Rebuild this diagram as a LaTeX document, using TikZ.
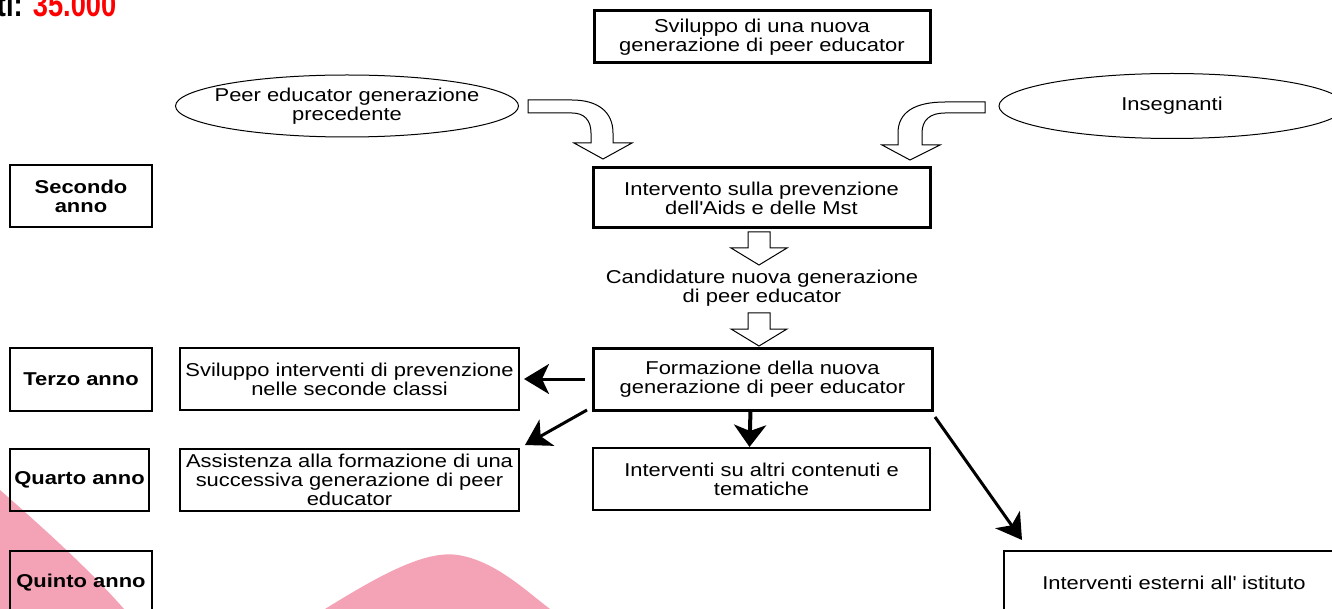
\documentclass[tikz,border=0pt]{standalone}
\usepackage{fontspec}
\setmainfont{Liberation Sans}[FakeStretch=1.18]
\usetikzlibrary{shapes.geometric,arrows.meta,calc}
\definecolor{blobpink}{RGB}{244,162,182}
\definecolor{numred}{RGB}{255,0,0}
\begin{document}
\begin{tikzpicture}[x=1pt,y=-1pt,
  every node/.style={font=\fontsize{18.6}{19}\selectfont, align=center, inner sep=0pt, outer sep=0pt},
  thickbox/.style={draw, line width=3pt},
  thinbox/.style={draw, line width=2pt},
  yearbox/.style={draw, line width=2.5pt, font=\fontsize{18.6}{19}\selectfont\bfseries},
  oval/.style={draw, ellipse, line width=1pt, inner xsep=-15pt, inner ysep=-5pt},
  blockarrow/.style={draw, line width=1pt, fill=white, line join=miter},
  link/.style={line width=3pt, -{Stealth[length=25pt,width=30pt,inset=7pt]}},
]
\useasboundingbox (0,0) rectangle (1332,609);
\clip (0,0) rectangle (1332,609);
% background blobs
\fill[blobpink] (0,490) .. controls (40,525) and (90,570) .. (124,609) -- (0,609) -- cycle;
\fill[blobpink] (325,609) .. controls (380,575) and (425,550) .. (458,555) .. controls (495,561) and (525,590) .. (550,609) -- cycle;
% top-left partial title
\node[anchor=base west, font=\fontsize{34}{34}\selectfont\bfseries] (budget) at (-3,17) {\scalebox{0.68}[1]{ti: \textcolor{numred}{35.000}}};
% main column
\node[thickbox, minimum width=336pt, minimum height=52pt] (top) at (762,37) {Sviluppo di una nuova\\generazione di peer educator};
\node[oval, minimum width=343pt, minimum height=62pt] (peer) at (347,106) {Peer educator generazione\\precedente};
\node[oval, minimum width=346pt, minimum height=65pt] (insegnanti) at (1172,106) {Insegnanti};
\node[thickbox, minimum width=337pt, minimum height=60pt] (intervento) at (761.5,198) {Intervento sulla prevenzione\\dell\textquotesingle Aids e delle Mst};
\node (candidature) at (762,288) {Candidature nuova generazione\\di peer educator};
\node[thickbox, minimum width=339pt, minimum height=62pt] (formazione) at (762.5,379) {Formazione della nuova\\generazione di peer educator};
\node[thinbox, minimum width=337pt, minimum height=62pt] (altri) at (761.5,479) {Interventi su altri contenuti e\\tematiche};
\node[draw, line width=2.5pt, minimum width=340pt, minimum height=64pt] (esterni) at (1174,583) {Interventi esterni all\textquotesingle{} istituto};
% left column
\node[yearbox, minimum width=142pt, minimum height=62pt] (secondo) at (81,196) {Secondo\\anno};
\node[yearbox, minimum width=142pt, minimum height=63pt] (terzo) at (81,379.5) {Terzo anno};
\node[yearbox, minimum width=139pt, minimum height=62pt] (quarto) at (79.5,480) {Quarto anno};
\node[yearbox, minimum width=142pt, minimum height=64pt] (quinto) at (81,583) {Quinto anno};
\node[thinbox, minimum width=339pt, minimum height=62pt] (sviluppo) at (349.5,379) {Sviluppo interventi di prevenzione\\nelle seconde classi};
\node[thinbox, minimum width=339pt, minimum height=62pt] (assistenza) at (349.5,480) {Assistenza alla formazione di una\\successiva generazione di peer\\educator};
% block arrows
\draw[blockarrow] (528,100) -- (572,100) .. controls (598,100) and (613,112) .. (613,133) -- (613,143) -- (632,143) -- (603,159) -- (574,143) -- (591,143) -- (591,133) .. controls (591,120) and (584,113) .. (572,113) -- (528,113) -- cycle;
\draw[blockarrow] (985,102) -- (945,102) .. controls (915,102) and (898,112) .. (898,133) -- (898,145) -- (882,145) -- (910,160) -- (940,145) -- (922,145) -- (922,133) .. controls (922,120) and (930,113) .. (945,113) -- (985,113) -- cycle;
\draw[blockarrow] (748,232) -- (770,232) -- (770,248) -- (787,248) -- (759,265) -- (731,248) -- (748,248) -- cycle;
\draw[blockarrow] (748,313) -- (770,313) -- (770,329) -- (787,329) -- (759,346) -- (731,329) -- (748,329) -- cycle;
% connectors
\draw[link] ($(formazione.west)+(-8,0)$) -- ($(sviluppo.east)+(5,0)$);
\draw[link] ($(formazione.south west)+(-6,0)$) -- ($(assistenza.north east)+(6,-4)$);
\draw[line width=4pt, -{Stealth[length=22pt,width=32pt,inset=6pt]}] ($(formazione.south)+(-12,0)$) -- ($(altri.north)+(-12,-1)$);
\draw[link] ($(formazione.south east)+(3,7)$) -- ($(esterni.north west)+(18,-11)$);
\end{tikzpicture}
\end{document}
